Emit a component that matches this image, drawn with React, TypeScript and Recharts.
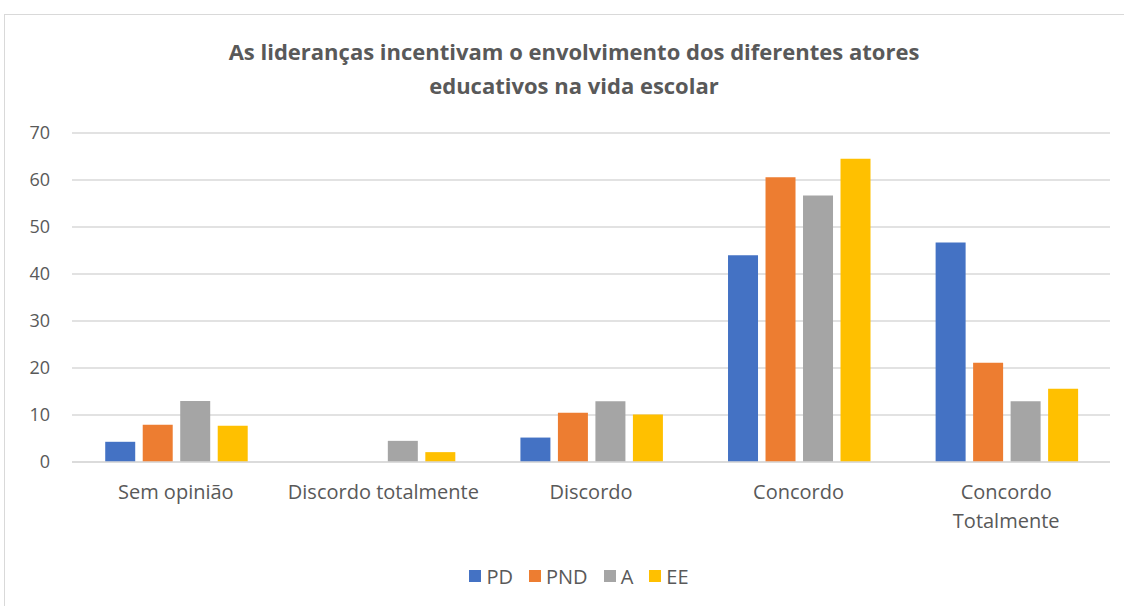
import React from 'react';
import { BarChart, Bar, XAxis, YAxis, CartesianGrid, Legend } from 'recharts';

const categories = ['Sem opinião', 'Discordo totalmente', 'Discordo', 'Concordo', 'Concordo Totalmente'];
const pd = [4.3, 0, 5.2, 44.0, 46.7];
const pnd = [7.9, 0, 10.5, 60.6, 21.1];
const a = [13.0, 4.5, 12.9, 56.7, 12.9];
const ee = [7.7, 2.1, 10.1, 64.5, 15.6];
const yTicks = [0, 10, 20, 30, 40, 50, 60, 70];

const SERIES = [
    { key: 'PD', color: '#4472C4' },
    { key: 'PND', color: '#ED7D31' },
    { key: 'A', color: '#A5A5A5' },
    { key: 'EE', color: '#FFC000' },
];

const data = categories.map((name, i) => ({ name, PD: pd[i], PND: pnd[i], A: a[i], EE: ee[i] }));

// Excel wrapped only the last label
const TICK_LINES: Record<string, string[]> = {
    'Concordo Totalmente': ['Concordo', 'Totalmente'],
};

const FONT = '"Open Sans", sans-serif';
const TEXT = '#595959';

const CategoryTick = ({ x, y, payload }: any) => {
    const lines = TICK_LINES[payload.value] || [payload.value];
    return (
        <text x={x} y={y} textAnchor="middle" fill={TEXT} fontSize={20} fontFamily={FONT}>
            {lines.map((l, i) => (
                <tspan key={i} x={x} dy={29}>{l}</tspan>
            ))}
        </text>
    );
};

const LegendContent = () => (
    <div style={{ display: 'flex', justifyContent: 'center', alignItems: 'center', height: 24, fontFamily: FONT, fontSize: 20, color: TEXT, paddingLeft: 48 }}>
        {SERIES.map((s) => (
            <div key={s.key} style={{ display: 'flex', alignItems: 'center', margin: '0 8px' }}>
                <span style={{ width: 12, height: 12, background: s.color, display: 'inline-block', marginRight: 5 }} />
                <span>{s.key}</span>
            </div>
        ))}
    </div>
);

const App: React.FC = () => {
    return (
        <div style={{ position: 'fixed', left: 0, top: 0, width: 1124, height: 606, background: '#fff', overflow: 'hidden' }}>
            <div style={{ position: 'absolute', left: 4, top: 14, width: 1140, height: 620, border: '1px solid #D9D9D9' }} />
            <div style={{ position: 'absolute', left: 0, top: 34, width: 1148, textAlign: 'center', fontFamily: FONT, fontWeight: 700, fontSize: 22, lineHeight: '34px', color: TEXT }}>
                As lideranças incentivam o envolvimento dos diferentes atores
                <br />
                educativos na vida escolar
            </div>
            <div style={{ position: 'absolute', left: 0, top: 0 }}>
                <BarChart
                    width={1124}
                    height={606}
                    data={data}
                    margin={{ top: 133, right: 14, left: 0, bottom: 18 }}
                    barCategoryGap="16%"
                    barGap={7.5}
                >
                    <CartesianGrid vertical={false} stroke="#D9D9D9" strokeWidth={1.3} />
                    <XAxis
                        dataKey="name"
                        height={102}
                        tickLine={false}
                        axisLine={{ stroke: '#D9D9D9', strokeWidth: 1.3 }}
                        tick={<CategoryTick />}
                        interval={0}
                    />
                    <YAxis
                        width={72}
                        domain={[0, 70]}
                        ticks={yTicks}
                        axisLine={false}
                        tickLine={false}
                        tickMargin={16}
                        tick={{ fill: TEXT, fontSize: 18, fontFamily: FONT }}
                    />
                    <Legend verticalAlign="bottom" height={24} content={<LegendContent />} />
                    {SERIES.map((s) => (
                        <Bar key={s.key} dataKey={s.key} fill={s.color} isAnimationActive={false} />
                    ))}
                </BarChart>
            </div>
        </div>
    );
};

export default App;
